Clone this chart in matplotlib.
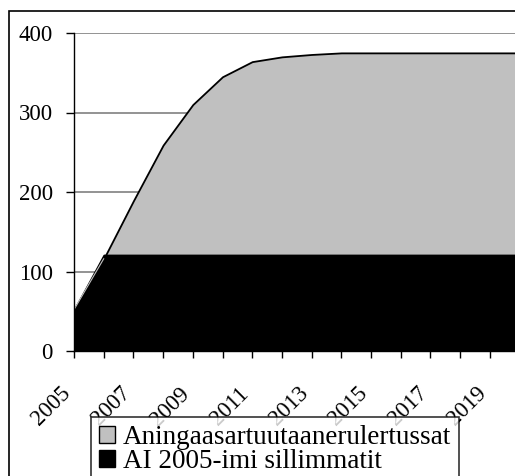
import numpy as np
import matplotlib.pyplot as plt
from matplotlib.patches import Rectangle, Patch

plt.rcParams['font.family'] = ['Liberation Serif', 'DejaVu Serif']

# data
years = np.arange(2005, 2021)
total = [52, 116, 189, 259, 310, 345, 364, 370, 373, 375, 375, 375, 375, 375, 375, 375]
existing = [52, 121, 121, 121, 121, 121, 121, 121, 121, 121, 121, 121, 121, 121, 121, 121]
labels = ['Aningaasartuutaanerulertussat', 'AI 2005-imi sillimmatit']
tick_years = list(range(2005, 2020, 2))

W, H = 515, 476
fig = plt.figure(figsize=(W / 100, H / 100), dpi=100)

# axes placed in pixel terms; right side runs off the figure like the original crop
left, bottom, top = 74, 351, 33
per_year = 29.7
ax = fig.add_axes([left / W, 1 - bottom / H, 15 * per_year / W, (bottom - top) / H])

ax.fill_between(years, total, color='#C0C0C0', edgecolor='black', linewidth=1.3, zorder=2)
ax.fill_between(years, existing, color='black', edgecolor='black', linewidth=1.0, zorder=3)
# faint edge of the grey series showing through where it dips under the black one
ax.plot(years[:2], total[:2], color='#C0C0C0', linewidth=0.8, zorder=4)

ax.set_xlim(2005, 2020)
ax.set_ylim(0, 400)
ax.set_yticks([0, 100, 200, 300, 400])
ax.set_xticks(years)
ax.set_xticklabels([])
ax.tick_params(axis='y', labelsize=16.5, length=5.8, width=1, pad=9.5)
ax.tick_params(axis='x', length=5, width=1)

# rotated year labels, every second year, hanging below the ticks (offset in pixels -> points)
for y in tick_years:
    ax.annotate(str(y), xy=(y, 0), xycoords=ax.get_xaxis_transform(),
                xytext=(-14 * 0.72, -32 * 0.72), textcoords='offset points',
                rotation=45, ha='right', va='top', rotation_mode='anchor',
                fontsize=16.5, annotation_clip=False)

ax.yaxis.grid(True, color='#808080', linewidth=1.2, zorder=1)
ax.set_axisbelow(True)
for s in ['top', 'right']:
    ax.spines[s].set_visible(False)
ax.spines['left'].set_linewidth(1)
ax.spines['bottom'].set_linewidth(1)
ax.spines['left'].set_zorder(5)

# outer chart frame (cut off at bottom and right)
fig.patches.append(Rectangle((9 / W, -0.1), 1.2, (H - 11) / H + 0.1, transform=fig.transFigure,
                             fill=False, edgecolor='black', linewidth=1.2))

handles = [Patch(facecolor='#C0C0C0', edgecolor='black'), Patch(facecolor='black', edgecolor='black')]
leg = fig.legend(handles, labels, loc='upper left', bbox_to_anchor=(91 / W, 1 - 417 / H),
                 fontsize=19.5, frameon=True, fancybox=False, handlelength=0.6, handleheight=0.6,
                 handletextpad=0.27, labelspacing=-0.05, borderpad=0.3, borderaxespad=0)
leg.get_frame().set_edgecolor('black')
leg.get_frame().set_linewidth(1.2)
leg.set_zorder(10)

fig.savefig('out.png', dpi=100)
